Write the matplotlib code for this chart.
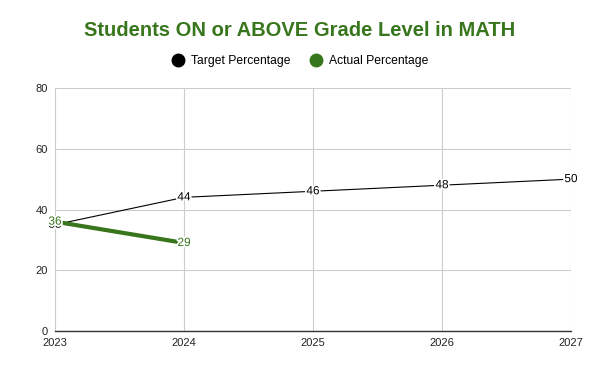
import matplotlib
matplotlib.use("Agg")
import matplotlib.pyplot as plt
import matplotlib.patheffects as pe
from matplotlib.lines import Line2D

plt.rcParams['font.family'] = ['Liberation Sans', 'DejaVu Sans']

years = [2023, 2024, 2025, 2026, 2027]
target = [35, 44, 46, 48, 50]
actual_years = [2023, 2024]
actual = [36, 29]
yticks = [0, 20, 40, 60, 80]

green = '#38761d'

fig = plt.figure(figsize=(6, 3.71), dpi=100)
ax = fig.add_axes([55/600, 1-331/371, (571-55)/600, (331-88)/371])

ax.plot(years, target, color='black', lw=0.8, zorder=3)
ax.plot(actual_years, actual, color=green, lw=3, zorder=4)

halo = [pe.withStroke(linewidth=2.5, foreground='white')]
for x, v in zip(years, target):
    ax.text(x, v, str(v), ha='center', va='center', fontsize=8.5, color='black',
            path_effects=halo, zorder=5)
for x, v in zip(actual_years, actual):
    ax.text(x, v, str(v), ha='center', va='center', fontsize=8.5, color=green,
            path_effects=halo, zorder=6)

ax.set_xlim(2023, 2027)
ax.set_ylim(0, 80)
ax.set_xticks(years)
ax.set_xticklabels([str(y) for y in years])
ax.set_yticks(yticks)
ax.grid(True, color='#cccccc', lw=0.8)
ax.set_axisbelow(True)
for s in ['top', 'right', 'left']:
    ax.spines[s].set_visible(False)
ax.spines['bottom'].set_color('#333333')
ax.spines['bottom'].set_linewidth(1)
ax.tick_params(length=0, labelsize=8, colors='#222222', pad=5)

fig.text(0.5, 1-31/371, 'Students ON or ABOVE Grade Level in MATH', ha='center', va='center',
         fontsize=14.5, fontweight='bold', color=green)

handles = [Line2D([], [], marker='o', ls='none', color='black', markersize=9),
           Line2D([], [], marker='o', ls='none', color=green, markersize=9)]
fig.legend(handles, ['Target Percentage', 'Actual Percentage'], loc='center',
           bbox_to_anchor=(0.5, 1-61/371), ncol=2, frameon=False, fontsize=8.7,
           handletextpad=0.6, columnspacing=1.6, handlelength=1)

fig.savefig('out.png', dpi=100)
